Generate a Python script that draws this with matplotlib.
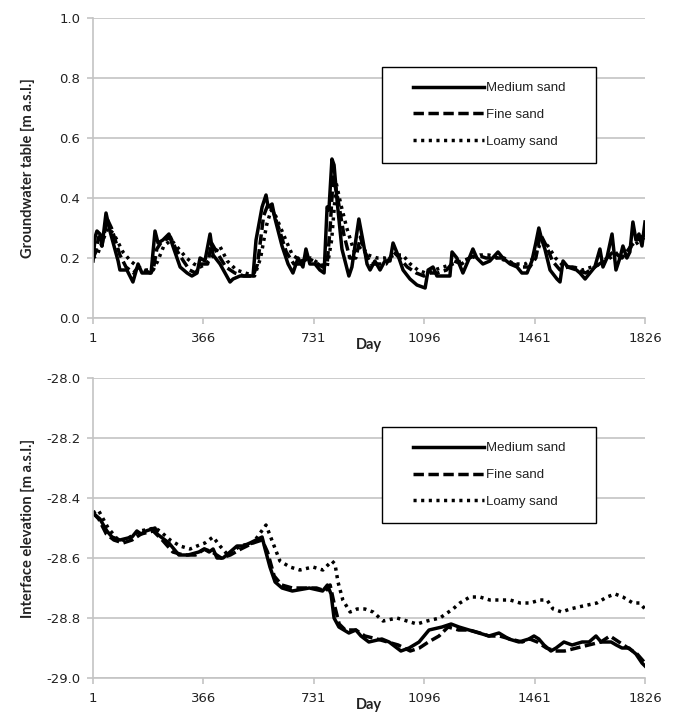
import matplotlib
matplotlib.use("Agg")
import matplotlib.pyplot as plt
from matplotlib.patches import Rectangle
from matplotlib.ticker import FormatStrFormatter

plt.rcParams["font.family"] = "DejaVu Sans"
plt.rcParams["axes.unicode_minus"] = False

series_labels = ["Medium sand", "Fine sand", "Loamy sand"]
day_ticks = [1, 366, 731, 1096, 1461, 1826]

# --- groundwater table [m a.s.l.] ---
gw_medium_day = [1, 8, 14, 24, 31, 44, 57, 84, 90, 113, 133, 150, 163, 180, 193,
                 206, 216, 232, 252, 265, 289, 312, 328, 345, 355, 371, 388, 398,
                 421, 454, 464, 487, 530, 540, 560, 573, 580, 593, 603, 626, 646,
                 662, 679, 695, 705, 718, 735, 751, 765, 775, 781, 791, 798, 808,
                 824, 847, 857, 880, 893, 907, 917, 933, 950, 966, 983, 993, 1009,
                 1026, 1049, 1072, 1099, 1109, 1125, 1138, 1165, 1181, 1188, 1204,
                 1224, 1241, 1257, 1270, 1290, 1313, 1340, 1356, 1380, 1403, 1419,
                 1436, 1452, 1465, 1475, 1485, 1495, 1512, 1535, 1545, 1555, 1571,
                 1588, 1611, 1628, 1644, 1660, 1677, 1687, 1700, 1717, 1730, 1743,
                 1753, 1766, 1776, 1786, 1796, 1806, 1816, 1826]
gw_medium = [0.19, 0.27, 0.29, 0.28, 0.24, 0.35, 0.29, 0.19, 0.16, 0.16, 0.12, 0.18,
             0.15, 0.15, 0.15, 0.29, 0.25, 0.26, 0.28, 0.24, 0.17, 0.15, 0.14, 0.15,
             0.20, 0.19, 0.28, 0.21, 0.18, 0.12, 0.13, 0.14, 0.14, 0.26, 0.37, 0.41,
             0.37, 0.38, 0.33, 0.24, 0.18, 0.15, 0.20, 0.17, 0.23, 0.18, 0.18, 0.16,
             0.15, 0.37, 0.36, 0.53, 0.51, 0.39, 0.23, 0.14, 0.17, 0.33, 0.26, 0.18,
             0.16, 0.19, 0.16, 0.19, 0.19, 0.25, 0.21, 0.16, 0.13, 0.11, 0.10, 0.16,
             0.17, 0.14, 0.14, 0.14, 0.22, 0.20, 0.15, 0.19, 0.23, 0.20, 0.18, 0.19,
             0.22, 0.20, 0.18, 0.17, 0.15, 0.15, 0.19, 0.25, 0.30, 0.26, 0.23, 0.16,
             0.13, 0.12, 0.19, 0.17, 0.17, 0.15, 0.13, 0.15, 0.17, 0.23, 0.17, 0.20,
             0.28, 0.16, 0.20, 0.24, 0.20, 0.22, 0.32, 0.26, 0.28, 0.24, 0.32]

gw_fine_day = [1, 10, 20, 30, 48, 62, 90, 110, 135, 150, 170, 190, 200, 212, 225,
               240, 257, 275, 300, 320, 340, 360, 380, 393, 410, 440, 470, 500, 530,
               545, 565, 580, 595, 615, 640, 665, 690, 710, 730, 760, 775, 785, 795,
               810, 830, 850, 870, 885, 900, 920, 945, 970, 995, 1015, 1040, 1070,
               1095, 1115, 1140, 1170, 1195, 1220, 1245, 1270, 1300, 1330, 1360,
               1390, 1420, 1445, 1465, 1480, 1500, 1520, 1545, 1570, 1600, 1630,
               1660, 1690, 1720, 1750, 1780, 1800, 1815, 1826]
gw_fine = [0.20, 0.22, 0.27, 0.24, 0.33, 0.30, 0.21, 0.17, 0.15, 0.17, 0.16, 0.15,
           0.16, 0.23, 0.25, 0.26, 0.27, 0.23, 0.19, 0.16, 0.15, 0.18, 0.18, 0.25,
           0.22, 0.17, 0.15, 0.14, 0.14, 0.18, 0.34, 0.38, 0.36, 0.30, 0.22, 0.18,
           0.18, 0.20, 0.19, 0.17, 0.18, 0.30, 0.47, 0.40, 0.28, 0.20, 0.20, 0.27,
           0.22, 0.18, 0.18, 0.18, 0.22, 0.20, 0.17, 0.15, 0.14, 0.15, 0.15, 0.16,
           0.19, 0.18, 0.20, 0.21, 0.20, 0.20, 0.20, 0.18, 0.17, 0.17, 0.20, 0.28,
           0.24, 0.19, 0.16, 0.17, 0.16, 0.15, 0.17, 0.19, 0.22, 0.20, 0.24, 0.26,
           0.27, 0.28]

gw_loamy_day = [1, 15, 30, 50, 70, 100, 125, 150, 175, 200, 215, 235, 260, 285,
                310, 335, 355, 375, 400, 420, 445, 475, 505, 535, 555, 575, 590, 605,
                630, 660, 690, 720, 750, 775, 790, 805, 820, 840, 865, 890, 910, 940,
                970, 1000, 1025, 1050, 1075, 1100, 1130, 1160, 1190, 1220, 1250, 1280,
                1310, 1340, 1370, 1400, 1430, 1460, 1485, 1505, 1530, 1560, 1590,
                1620, 1650, 1680, 1710, 1740, 1770, 1800, 1826]
gw_loamy = [0.20, 0.21, 0.25, 0.30, 0.28, 0.22, 0.19, 0.17, 0.16, 0.16, 0.19, 0.24,
            0.26, 0.23, 0.20, 0.18, 0.17, 0.18, 0.21, 0.24, 0.19, 0.16, 0.15, 0.14,
            0.20, 0.31, 0.36, 0.34, 0.28, 0.21, 0.19, 0.20, 0.18, 0.17, 0.26, 0.45,
            0.38, 0.30, 0.22, 0.24, 0.21, 0.20, 0.20, 0.21, 0.21, 0.18, 0.16, 0.15,
            0.16, 0.17, 0.18, 0.19, 0.20, 0.21, 0.21, 0.20, 0.19, 0.18, 0.18, 0.20,
            0.26, 0.24, 0.20, 0.17, 0.17, 0.16, 0.17, 0.18, 0.20, 0.22, 0.23, 0.25,
            0.27]

# --- interface elevation [m a.s.l.] ---
if_medium_day = [1, 24, 47, 64, 90, 130, 146, 160, 176, 206, 213, 252, 285, 315,
                 351, 368, 385, 398, 411, 431, 454, 477, 497, 520, 560, 570, 586,
                 603, 626, 660, 716, 760, 776, 788, 798, 814, 847, 870, 887, 913,
                 956, 980, 1019, 1046, 1079, 1112, 1155, 1185, 1211, 1244, 1277,
                 1310, 1343, 1376, 1409, 1442, 1459, 1475, 1492, 1515, 1532, 1558,
                 1585, 1618, 1641, 1664, 1681, 1714, 1731, 1750, 1773, 1796, 1816,
                 1826]
if_medium = [-28.45, -28.47, -28.51, -28.53, -28.54, -28.53, -28.51, -28.52, -28.51,
             -28.50, -28.52, -28.55, -28.59, -28.59, -28.58, -28.57, -28.58, -28.57,
             -28.60, -28.60, -28.58, -28.56, -28.56, -28.55, -28.53, -28.57, -28.63,
             -28.68, -28.70, -28.71, -28.70, -28.71, -28.69, -28.72, -28.80, -28.83,
             -28.85, -28.84, -28.86, -28.88, -28.87, -28.88, -28.91, -28.90, -28.88,
             -28.84, -28.83, -28.82, -28.83, -28.84, -28.85, -28.86, -28.85, -28.87,
             -28.88, -28.87, -28.86, -28.87, -28.89, -28.91, -28.90, -28.88, -28.89,
             -28.88, -28.88, -28.86, -28.88, -28.88, -28.89, -28.90, -28.90, -28.92,
             -28.95, -28.96]

if_fine_day = [1, 20, 45, 70, 100, 130, 160, 200, 230, 265, 300, 340, 370, 395, 425,
               455, 490, 530, 560, 578, 600, 625, 660, 700, 740, 770, 785, 800, 815,
               835, 870, 900, 940, 975, 1010, 1050, 1080, 1110, 1145, 1175, 1210,
               1245, 1280, 1310, 1345, 1380, 1420, 1445, 1470, 1500, 1530, 1560,
               1600, 1640, 1680, 1710, 1740, 1770, 1800, 1826]
if_fine = [-28.45, -28.47, -28.52, -28.54, -28.55, -28.54, -28.52, -28.51, -28.54,
           -28.58, -28.59, -28.59, -28.57, -28.58, -28.60, -28.59, -28.57, -28.55,
           -28.54, -28.58, -28.66, -28.69, -28.70, -28.70, -28.70, -28.71, -28.69,
           -28.76, -28.82, -28.84, -28.84, -28.86, -28.87, -28.88, -28.89, -28.91,
           -28.90, -28.88, -28.86, -28.83, -28.84, -28.84, -28.85, -28.86, -28.86,
           -28.87, -28.88, -28.87, -28.88, -28.90, -28.91, -28.91, -28.90, -28.89,
           -28.88, -28.86, -28.88, -28.90, -28.92, -28.95]

if_loamy_day = [1, 18, 24, 51, 84, 107, 156, 206, 222, 256, 289, 322, 345, 371, 398,
                421, 447, 487, 530, 573, 596, 619, 652, 685, 728, 761, 791, 801, 811,
                827, 851, 874, 900, 927, 960, 1006, 1039, 1072, 1105, 1148, 1191,
                1214, 1247, 1280, 1313, 1346, 1380, 1413, 1446, 1479, 1502, 1522,
                1551, 1578, 1621, 1667, 1700, 1727, 1753, 1786, 1809, 1826]
if_loamy = [-28.45, -28.44, -28.45, -28.50, -28.54, -28.54, -28.51, -28.50, -28.51,
            -28.54, -28.56, -28.57, -28.56, -28.55, -28.53, -28.56, -28.59, -28.56,
            -28.55, -28.49, -28.55, -28.61, -28.63, -28.64, -28.63, -28.64, -28.61,
            -28.62, -28.68, -28.74, -28.78, -28.77, -28.77, -28.78, -28.81, -28.80,
            -28.81, -28.82, -28.81, -28.80, -28.77, -28.75, -28.73, -28.73, -28.74,
            -28.74, -28.74, -28.75, -28.75, -28.74, -28.74, -28.77, -28.78, -28.77,
            -28.76, -28.75, -28.73, -28.72, -28.73, -28.75, -28.75, -28.77]

styles = [dict(linestyle="-"),
          dict(linestyle=(0, (3.0, 1.3))),
          dict(linestyle=(0, (0.9, 1.3)))]
grid_color = "#c4c4c4"


def draw_panel(ax, days, values, ylim, ylabel):
    for d, v, lab, st in zip(days, values, series_labels, styles):
        ax.plot(d, v, color="black", linewidth=2.5, label=lab,
                solid_joinstyle="round", dash_capstyle="butt", **st)
    ax.set_xlim(1, 1826)
    ax.set_ylim(*ylim)
    ax.set_xticks(day_ticks)
    ax.set_yticks([ylim[0] + 0.2 * i for i in range(6)])
    ax.yaxis.set_major_formatter(FormatStrFormatter("%.1f"))
    ax.grid(axis="y", color=grid_color, linewidth=1.2)
    ax.set_axisbelow(True)
    for s in ["top", "right"]:
        ax.spines[s].set_visible(False)
    for s in ["left", "bottom"]:
        ax.spines[s].set_color(grid_color)
        ax.spines[s].set_linewidth(1.2)
    ax.tick_params(axis="both", direction="out", length=4, width=1.2,
                   color=grid_color, labelsize=9.5, labelcolor="#222222", pad=5)
    ax.tick_params(axis="x", pad=6)
    ax.set_ylabel(ylabel, family="Lato", fontweight="bold", fontsize=10.5,
                  color="#222222")
    ax.yaxis.set_label_coords(-0.105, 0.5)
    ax.set_xlabel("Day", family="Lato", fontweight="bold", fontsize=10.5,
                  color="#222222")
    ax.xaxis.set_label_coords(0.5, -0.066)

    # legend box
    x0, y0 = (382 - 93) / 552, (318 - 163) / 300
    w, h = 214 / 552, 96 / 300
    ax.add_patch(Rectangle((x0, y0), w, h, transform=ax.transAxes,
                           facecolor="white", edgecolor="black", linewidth=1.0,
                           zorder=5))
    leg = ax.legend(loc="center", bbox_to_anchor=(x0 + w / 2, y0 + h / 2),
                    frameon=False, handlelength=5.4, handletextpad=0.15,
                    labelspacing=1.1, prop={"family": "Liberation Sans", "size": 9.5})
    leg.set_zorder(6)
    for t in leg.get_texts():
        t.set_color("#222222")


fig = plt.figure(figsize=(6.75, 7.13), dpi=100)
ax1 = fig.add_axes([93 / 675, (713 - 318) / 713, 552 / 675, 300 / 713])
ax2 = fig.add_axes([93 / 675, (713 - 678) / 713, 552 / 675, 300 / 713])

draw_panel(ax1, [gw_medium_day, gw_fine_day, gw_loamy_day],
           [gw_medium, gw_fine, gw_loamy], (0.0, 1.0),
           "Groundwater table [m a.s.l.]")
draw_panel(ax2, [if_medium_day, if_fine_day, if_loamy_day],
           [if_medium, if_fine, if_loamy], (-29.0, -28.0),
           "Interface elevation [m a.s.l.]")

fig.savefig("out.png", dpi=100)
